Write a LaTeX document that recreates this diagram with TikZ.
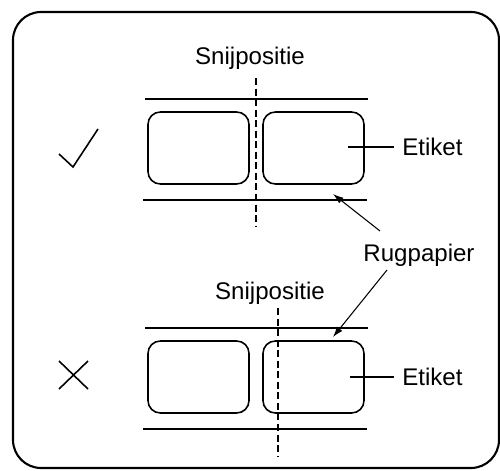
\documentclass[tikz,border=0pt]{standalone}
\usepackage{fontspec}
\setmainfont{Liberation Sans}
\usetikzlibrary{arrows.meta,positioning,calc}
\begin{document}
\begin{tikzpicture}[
    x=0.02cm, y=-0.02cm,
    lbl/.style={
      draw,
      line width=0.9pt,
      minimum width=2.02cm,
      minimum height=1.44cm,
      rounded corners=7pt,
      inner sep=0pt
    },
    txt/.style={font=\fontsize{13.7}{16}\selectfont, inner sep=0pt},
    liner/.style={line width=1.1pt},
    cut/.style={dashed, line width=0.8pt, dash pattern=on 4pt off 2pt},
    lead/.style={line width=0.6pt, shorten >=0.16cm},
    ptr/.style={line width=0.6pt, -{Latex[length=6pt,width=4pt]}}
  ]
  \useasboundingbox (0,0) rectangle (500,470);

  % Frame
  \draw[line width=1.2pt, rounded corners=16pt] (13,12) rectangle (499,468);

  % Good position
  \node[txt] (cutA) at (250,58) {Snijpositie};
  \draw[liner] (145,99) -- (368,99);
  \draw[liner] (143,200) -- (367,200);
  \node[lbl] (labA1) at (198.5,148) {};
  \node[lbl] (labA2) at (313.5,148) {};
  \draw[cut] (256,78) -- (256,227);
  \node[txt, anchor=west] (etA) at (402,147) {Etiket};
  \coordinate (etA0) at (348,147);
  \draw[lead] (etA0) -- (etA.west);
  \draw[line width=0.9pt] (59,154) -- (73,167) -- (98,129);

  % Backing paper
  \node[txt] (rug) at (419,255) {Rugpapier};
  \coordinate (rugA) at (333,194);
  \coordinate (rugB) at (333,337);
  \draw[ptr] (380,231) -- (rugA);
  \draw[ptr] (387,270) -- (rugB);

  % Wrong position
  \node[txt] (cutB) at (270,293) {Snijpositie};
  \draw[liner] (145,328) -- (368,328);
  \draw[liner] (143,429) -- (367,429);
  \node[lbl] (labB1) at (198.5,377) {};
  \node[lbl] (labB2) at (313.5,377) {};
  \draw[cut] (278,308) -- (278,457);
  \node[txt, anchor=west] (etB) at (402,377) {Etiket};
  \coordinate (etB0) at (350,377);
  \draw[lead] (etB0) -- (etB.west);
  \draw[line width=0.9pt] (59,361) -- (88,389) (59,389) -- (88,361);

\end{tikzpicture}
\end{document}
